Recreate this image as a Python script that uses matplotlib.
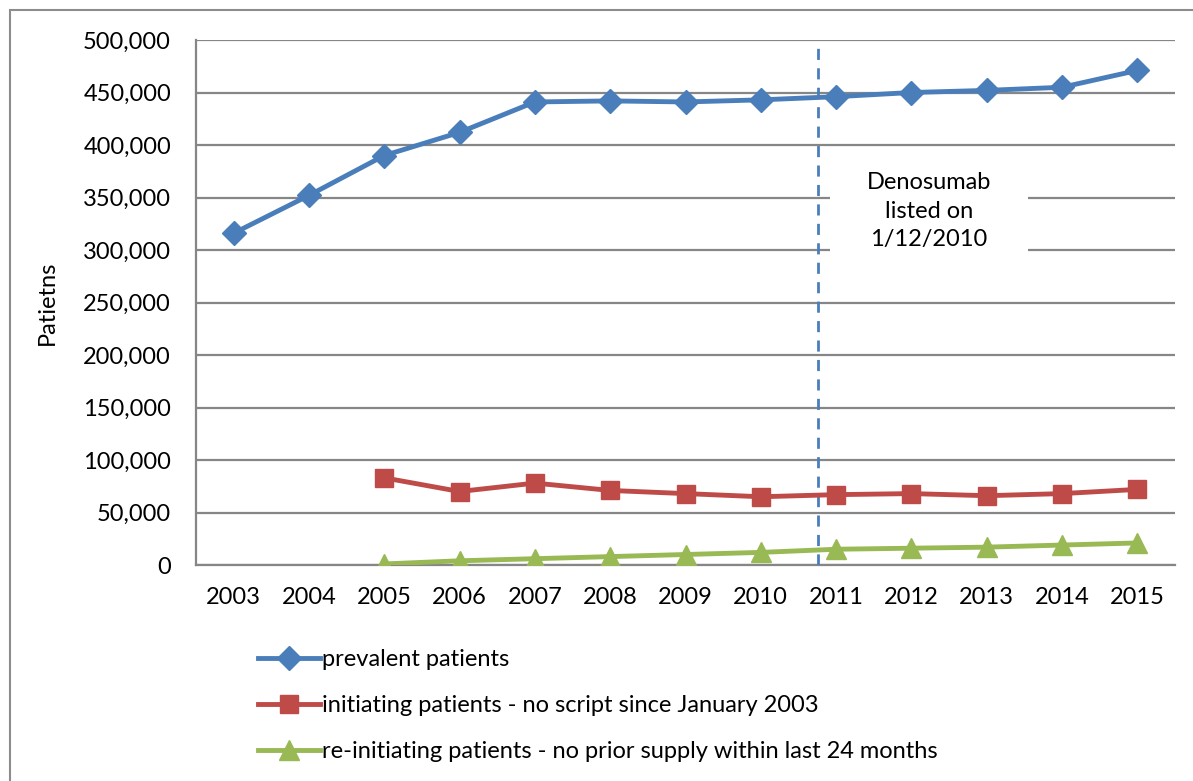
import numpy as np
import matplotlib
matplotlib.use('Agg')
import matplotlib.pyplot as plt
from matplotlib.patches import Rectangle

# 數據
years = ['2003', '2004', '2005', '2006', '2007', '2008', '2009',
         '2010', '2011', '2012', '2013', '2014', '2015']
prevalent = [316000, 352000, 390000, 412000, 441000, 442000, 441000,
             443000, 446000, 450000, 452000, 455000, 471000]
initiating = [np.nan, np.nan, 83000, 70000, 78000, 71000, 68000,
              65000, 67000, 68000, 66000, 68000, 72000]
reinitiating = [np.nan, np.nan, 1000, 4000, 6000, 8000, 10000,
                12000, 15000, 16000, 17000, 19000, 21000]
labels = ['prevalent patients',
          'initiating patients - no script since January 2003',
          're-initiating patients - no prior supply within last 24 months']
listing_pos = 7.76  # Denosumab listed 1/12/2010 (category position)

plt.rcParams['font.family'] = ['Lato', 'DejaVu Sans']
FS = 17

W, H = 1193, 781
fig = plt.figure(figsize=(W / 100, H / 100), dpi=100)
ax = fig.add_axes([196 / W, 1 - 565 / H, (1175 - 196) / W, (565 - 40) / H])

# 外框
fig.patches.append(Rectangle((10 / W, -0.1), 1.2, 1.1 - 10 / H,
                             transform=fig.transFigure, fill=False,
                             edgecolor='#8c8c8c', linewidth=1.5))

x = np.arange(len(years))
ax.plot(x, prevalent, color='#4A7EBB', linewidth=3.5, marker='D',
        markersize=12, label=labels[0], zorder=4)
ax.plot(x, initiating, color='#BE4B48', linewidth=3.5, marker='s',
        markersize=13, label=labels[1], zorder=4)
ax.plot(x, reinitiating, color='#98B954', linewidth=3.5, marker='^',
        markersize=14, label=labels[2], zorder=4)

ax.axvline(listing_pos, color='#4A7EBB', linewidth=2,
           linestyle=(0, (4, 3)), zorder=3)

# 註釋框
ax.add_patch(Rectangle((7.92, 281000), 2.63, 114000, facecolor='white',
                       edgecolor='none', zorder=2))
ax.text(9.23, 337000, 'Denosumab\nlisted on\n1/12/2010', ha='center',
        va='center', fontsize=FS, linespacing=1.45, zorder=3)

ax.set_xlim(-0.5, 12.5)
ax.set_ylim(0, 500000)
ax.set_yticks(np.arange(0, 500001, 50000))
ax.set_yticklabels([f'{v:,}' for v in range(0, 500001, 50000)])
ax.set_xticks(x)
ax.set_xticklabels(years)
ax.tick_params(axis='both', length=0, labelsize=FS)
ax.tick_params(axis='y', pad=18)
ax.tick_params(axis='x', pad=16)
ax.set_ylabel('Patietns', fontsize=FS, labelpad=18)

ax.grid(axis='y', color='#868686', linewidth=1.6)
ax.set_axisbelow(True)
for side in ['top', 'right']:
    ax.spines[side].set_visible(False)
for side in ['left', 'bottom']:
    ax.spines[side].set_color('#868686')
    ax.spines[side].set_linewidth(1.6)

fig.legend(loc='upper left', bbox_to_anchor=(249 / W, 1 - 640 / H),
           frameon=False, fontsize=FS, handlelength=2.6, handletextpad=0.1,
           labelspacing=1.05, borderaxespad=0)

fig.savefig('out.png', dpi=100)
